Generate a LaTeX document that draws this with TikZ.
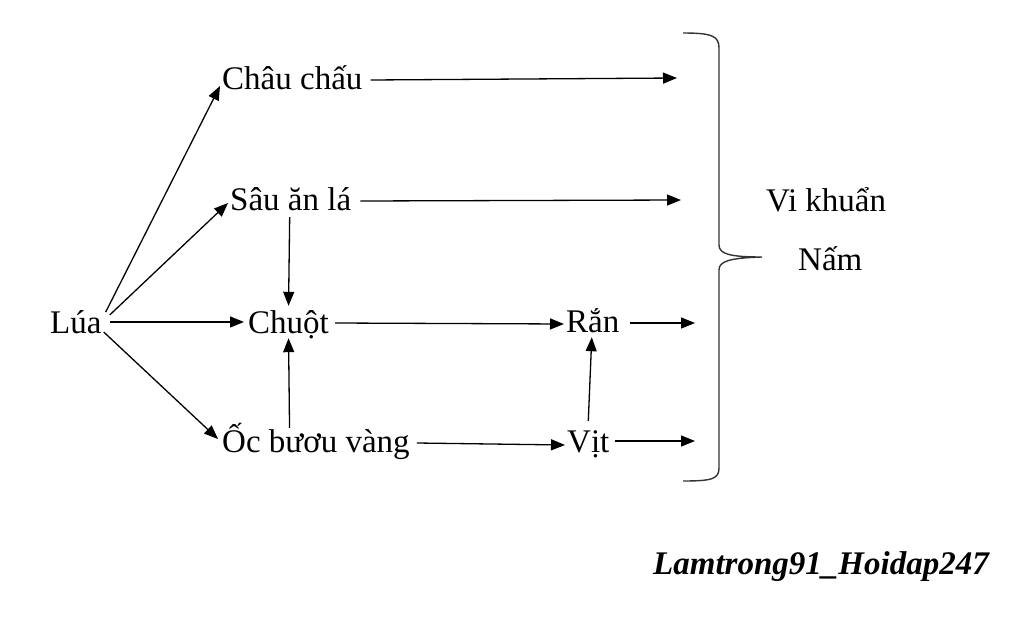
\documentclass[tikz,border=0pt]{standalone}
\usepackage{fontspec}
\setmainfont{Liberation Serif}
\usetikzlibrary{arrows.meta,calc}
\begin{document}
\begin{tikzpicture}[x=1pt,y=-1pt,
  lbl/.style={anchor=base west,inner sep=0pt,text height=22pt,text depth=0pt,font=\fontsize{33}{40}\selectfont},
  arr/.style={line width=1.3pt,-{Triangle[length=14pt,width=11pt]}},
  brc/.style={line width=1.4pt,draw=black!80}]
\useasboundingbox[fill=white] (0,0) rectangle (1024,634);
% nodes
\node[lbl] (cc) at (222,89) {Châu chấu};
\node[lbl] (sau) at (230,210) {Sâu ăn lá};
\node[lbl] (lua) at (50,333) {Lúa};
\node[lbl] (chuot) at (248,333) {Chuột};
\node[lbl] (ran) at (566,332) {Rắn};
\node[lbl] (oc) at (222,452) {Ốc bươu vàng};
\node[lbl] (vit) at (567,452) {Vịt};
\node[lbl] (vk) at (766,211) {Vi khuẩn};
\node[lbl] (nam) at (798,270) {Nấm};
\node[lbl,font=\fontsize{33}{40}\selectfont\bfseries\itshape] (wm) at (653,574) {Lamtrong91\_Hoidap247};
% free ends
\coordinate (e1) at (677,78);
\coordinate (e2) at (681,200);
\coordinate (e3) at (695,323);
\coordinate (e4) at (695,441);
% connectors
\draw[arr] ($(lua.east)+(4,-10)$) -- ($(cc.west)+(-2,8)$);
\draw[arr] ($(lua.east)+(8,-7)$) -- ($(sau.west)+(-2,4)$);
\draw[arr] ($(lua.east)+(8,0)$) -- ($(chuot.west)+(-4,0)$);
\draw[arr] ($(lua.east)+(2,10)$) -- ($(oc.west)+(-4,-2)$);
\draw[arr] ($(sau.south)+(-1,7)$) -- ($(chuot.north)+(0,-5)$);
\draw[arr] ($(chuot.south |- oc.north)+(1,-2)$) -- ($(chuot.south)+(0,5)$);
\draw[arr] ($(chuot.east)+(6,1)$) -- ($(ran.west)+(-2,3)$);
\draw[arr] ($(oc.east)+(7,2)$) -- ($(vit.west)+(-2,4)$);
\draw[arr] ($(vit.north)+(0,-9)$) -- ($(ran.south)+(-1,5)$);
\draw[arr] ($(cc.east)+(8,2)$) -- (e1);
\draw[arr] ($(sau.east)+(9,2)$) -- (e2);
\draw[arr] ($(ran.east)+(10,2)$) -- (e3);
\draw[arr] ($(vit.east)+(5,0)$) -- (e4);
% brace
\draw[brc] (683,33) .. controls (712,33) and (719,36) .. (719,48) -- (719,245)
  .. controls (719,254) and (730,257) .. (762,257)
  .. controls (730,258) and (719,261) .. (719,270) -- (719,468)
  .. controls (719,479) and (712,481) .. (683,481);
\end{tikzpicture}
\end{document}
